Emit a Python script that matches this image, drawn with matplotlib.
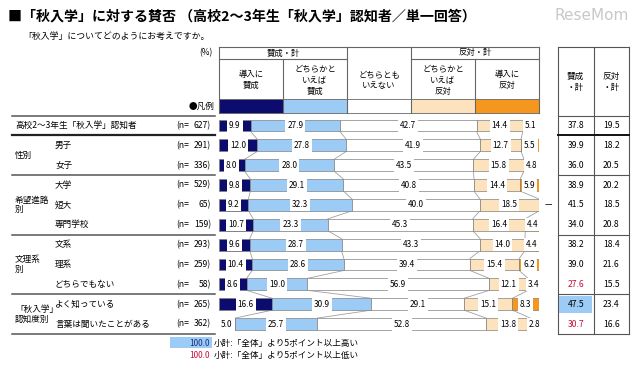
import matplotlib.pyplot as plt
import numpy as np
from matplotlib.patches import Rectangle

plt.rcParams['font.family'] = ['Noto Sans CJK JP', 'DejaVu Sans']

# data
categories = ['導入に\n賛成', 'どちらかと\nいえば\n賛成', 'どちらとも\nいえない',
              'どちらかと\nいえば\n反対', '導入に\n反対']
row_labels = ['高校2〜3年生「秋入学」認知者', '男子', '女子', '大学', '短大', '専門学校',
              '文系', '理系', 'どちらでもない', 'よく知っている', '言葉は聞いたことがある']
n_values = [627, 291, 336, 529, 65, 159, 293, 259, 58, 265, 362]
group_names = ['性別', '希望進路\n別', '文理系\n別', '「秋入学」\n認知度別']
group_rows = [(1, 2), (3, 5), (6, 8), (9, 10)]

agree_strong = [9.9, 12.0, 8.0, 9.8, 9.2, 10.7, 9.6, 10.4, 8.6, 16.6, 5.0]
agree_some = [27.9, 27.8, 28.0, 29.1, 32.3, 23.3, 28.7, 28.6, 19.0, 30.9, 25.7]
neutral = [42.7, 41.9, 43.5, 40.8, 40.0, 45.3, 43.3, 39.4, 56.9, 29.1, 52.8]
oppose_some = [14.4, 12.7, 15.8, 14.4, 18.5, 16.4, 14.0, 15.4, 12.1, 15.1, 13.8]
oppose_strong = [5.1, 5.5, 4.8, 5.9, 0.0, 4.4, 4.4, 6.2, 3.4, 8.3, 2.8]
agree_total = [37.8, 39.9, 36.0, 38.9, 41.5, 34.0, 38.2, 39.0, 27.6, 47.5, 30.7]
oppose_total = [19.5, 18.2, 20.5, 20.2, 18.5, 20.8, 18.4, 21.6, 15.5, 23.4, 16.6]

colors = ['#0c0c6e', '#9ccbf6', '#ffffff', '#fde3bd', '#f5961e']
highlight_blue = '#9ccbf6'
low_red = '#c4103a'

W, H = 640, 370
fig = plt.figure(figsize=(W / 100, H / 100), dpi=100)


def rect(x0, x1, y0, y1):
    # pixel box -> figure fraction
    return [x0 / W, 1 - y1 / H, (x1 - x0) / W, (y1 - y0) / H]


top_px, bot_px = 115.6, 334
nrows = len(row_labels)
ylim = (nrows - 0.5, -0.5)

ax = fig.add_axes(rect(219, 539, top_px, bot_px))
ax_left = fig.add_axes(rect(0, 219, top_px, bot_px))
ax_tbl = fig.add_axes(rect(558, 629, top_px, bot_px))
ov = fig.add_axes([0, 0, 1, 1], zorder=-1)
ov.set_xlim(0, W)
ov.set_ylim(H, 0)
ov.axis('off')

# stacked bars
series = np.array([agree_strong, agree_some, neutral, oppose_some, oppose_strong])
y = np.arange(nrows)
h = 0.6
lefts = np.zeros(nrows)
for k in range(5):
    ax.barh(y, series[k], left=lefts, height=h, color=colors[k],
            edgecolor='#808080', linewidth=0.5, zorder=2)
    for i in range(nrows):
        v = series[k][i]
        if v > 0:
            ax.text(lefts[i] + v / 2, i, f'{v:.1f}', ha='center', va='center',
                    fontsize=5.9, zorder=4,
                    bbox=dict(facecolor='white', edgecolor='none', pad=1.4))
        else:
            ax.text(103, i, '—', ha='center', va='center', fontsize=6, clip_on=False)
    lefts = lefts + series[k]

# connector lines between bars
cum = np.cumsum(series, axis=0)
for i in range(nrows - 1):
    for k in range(4):
        ax.plot([cum[k][i], cum[k][i + 1]], [i + h / 2, i + 1 - h / 2],
                color='#a0a0a0', lw=0.6, zorder=1)

ax.set_xlim(0, 100)
ax.set_ylim(*ylim)
ax.axis('off')

# left labels
ax_left.set_xlim(0, 219)
ax_left.set_ylim(*ylim)
ax_left.axis('off')
ax_left.text(15, 0, row_labels[0], ha='left', va='center', fontsize=6.2)
for i in range(1, nrows):
    ax_left.text(55, i, row_labels[i], ha='left', va='center', fontsize=6.2)
for i, n in enumerate(n_values):
    ax_left.text(176, i, '(n=', ha='left', va='center', fontsize=6.2)
    ax_left.text(211, i, f'{n})', ha='right', va='center', fontsize=6.2)
for name, (a, b) in zip(group_names, group_rows):
    ax_left.text(15, (a + b) / 2, name, ha='left', va='center', fontsize=6.2,
                 linespacing=1.15)
for yy in [-0.5, 2.5, 5.5, 8.5, 10.5]:
    ax_left.plot([12, 215], [yy, yy], color='#555555', lw=1.1, clip_on=False)
ax_left.plot([12, 215], [0.5, 0.5], color='#222222', lw=1.6, clip_on=False)

# right table
ax_tbl.set_xlim(0, 2)
ax_tbl.set_ylim(*ylim)
ax_tbl.axis('off')
base_a = agree_total[0]
for i in range(nrows):
    a = agree_total[i]
    style = dict(color='black', style='normal')
    if i > 0 and a - base_a >= 5:
        ax_tbl.add_patch(Rectangle((0.03, i - 0.43), 0.94, 0.86,
                                   facecolor=highlight_blue, edgecolor='none'))
    if i > 0 and a - base_a <= -5:
        style = dict(color=low_red, style='italic')
    ax_tbl.text(0.5, i, f'{a:.1f}', ha='center', va='center', fontsize=6.2, **style)
    ax_tbl.text(1.5, i, f'{oppose_total[i]:.1f}', ha='center', va='center',
                fontsize=6.2)
for yy in [-0.5, 2.5, 5.5, 8.5, 10.5]:
    ax_tbl.plot([0, 2], [yy, yy], color='#555555', lw=0.8, clip_on=False)
ax_tbl.plot([0, 2], [0.5, 0.5], color='#111111', lw=1.4, clip_on=False)

for xx in [558, 593.5, 629]:
    ov.plot([xx, xx], [47, bot_px], color='#555555', lw=0.8)
ov.plot([558, 629], [47, 47], color='#555555', lw=0.8)
ov.text(575.5, 82, '賛成\n・計', ha='center', va='center', fontsize=6.2, linespacing=1.3)
ov.text(611, 82, '反対\n・計', ha='center', va='center', fontsize=6.2, linespacing=1.3)

# header of bar area (legend)
edges = np.linspace(219, 539, 6)
lc = '#666666'
ov.plot([edges[0], edges[5]], [47, 47], color=lc, lw=0.8)
ov.plot([edges[0], edges[2]], [59, 59], color=lc, lw=0.8)
ov.plot([edges[3], edges[5]], [59, 59], color=lc, lw=0.8)
for j, xx in enumerate(edges):
    y0 = 59 if j in (1, 4) else 47
    ov.plot([xx, xx], [y0, 113], color=lc, lw=0.8)
ov.text((edges[0] + edges[2]) / 2, 53, '賛成・計', ha='center', va='center', fontsize=6)
ov.text((edges[3] + edges[5]) / 2, 53, '反対・計', ha='center', va='center', fontsize=6)
for k in range(5):
    ov.add_patch(Rectangle((edges[k], 99), edges[k + 1] - edges[k], 14,
                           facecolor=colors[k], edgecolor=lc, lw=0.6))
    ov.text((edges[k] + edges[k + 1]) / 2, 80, categories[k], ha='center',
            va='center', fontsize=6, linespacing=1.35)

# titles
ov.text(8, 16, '■「秋入学」に対する賛否 （高校2〜3年生「秋入学」認知者／単一回答）',
        ha='left', va='center', fontsize=10.1, fontweight='bold')
ov.text(23, 36, '「秋入学」についてどのようにお考えですか。', ha='left', va='center',
        fontsize=6.4)
ov.text(206, 53, '(%)', ha='center', va='center', fontsize=6)
ov.text(214, 106, '●凡例', ha='right', va='center', fontsize=6.2)
ov.text(592, 16, 'ReseMom', ha='center', va='center', fontsize=11,
        color='#c8c8c8', family='DejaVu Sans')

# bottom note
ov.add_patch(Rectangle((170, 337), 42, 11, facecolor=highlight_blue, edgecolor='none'))
ov.text(210, 343, '100.0', ha='right', va='center', fontsize=6, color='#1a2f7a')
ov.text(210, 355, '100.0', ha='right', va='center', fontsize=6, color=low_red,
        style='italic')
ov.text(214, 343, '小計:「全体」より5ポイント以上高い', ha='left', va='center', fontsize=6.2)
ov.text(214, 355, '小計:「全体」より5ポイント以上低い', ha='left', va='center', fontsize=6.2)

fig.savefig('out.png', dpi=100)
